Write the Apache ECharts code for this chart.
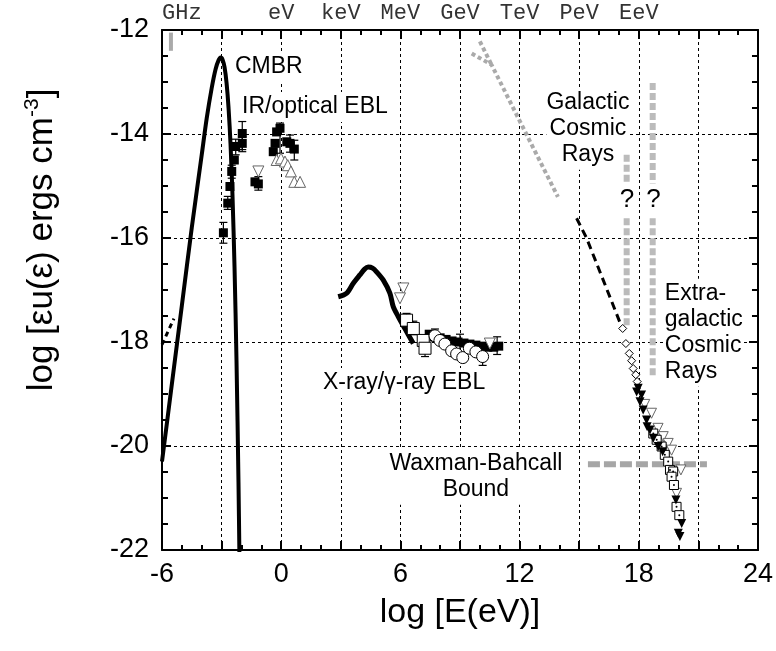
<!DOCTYPE html>
<html>
<head>
<meta charset="utf-8">
<script src="https://cdn.jsdelivr.net/npm/echarts@6/dist/echarts.min.js"></script>
<style>
html, body { margin: 0; background: #fff; }
#chart-container { width: 776px; height: 651px; }
</style>
</head>
<body>
<div id="chart-container"></div>
<script>
// top axis energy names, by log E
const topLabels = { '-6': 'GHz', '0': 'eV', '3': 'keV', '6': 'MeV', '9': 'GeV', '12': 'TeV', '15': 'PeV', '18': 'EeV' }

// CMBR black body
const cmbrX = [-6, -5.5, -5, -4.5, -4, -3.75, -3.5, -3.3, -3.15, -3.05, -2.95, -2.85, -2.75, -2.65, -2.55, -2.45, -2.35, -2.25, -2.15, -2.1]
const cmbrY = [-20.3, -18.8, -17.3, -15.8, -14.4, -13.7, -13.12, -12.75, -12.58, -12.53, -12.57, -12.72, -13.02, -13.5, -14.2, -15.2, -16.55, -18.35, -20.7, -22.2]

// IR / optical EBL
const irSquares = [[-1.96, -13.99], [-1.96, -14.18], [-2.29, -14.24], [-2.36, -14.5], [-2.49, -14.72], [-2.58, -15.01], [-2.69, -15.33], [-2.91, -15.9],
  [-0.23, -13.96], [-0.06, -13.89], [-0.31, -14.18], [-0.4, -14.34], [0.28, -14.15], [0.44, -14.18], [0.66, -14.29], [-1.15, -14.96], [-1.32, -14.92]]
const irTriUp = [[-0.23, -14.5], [-0.01, -14.47], [0.19, -14.53], [0.33, -14.6], [0.49, -14.72], [0.66, -14.92], [0.95, -14.92]]
const irTriDown = [[-1.15, -14.72]]
const irErr = [[-1.96, -13.76, -14.34], [-2.91, -15.7, -16.1], [-0.06, -13.79, -14.37], [0.66, -14.12, -14.5], [-1.15, -14.82, -15.08],
  [-2.49, -14.6, -14.85], [-2.29, -14.1, -14.4], [-2.69, -15.2, -15.45], [0.44, -14.02, -14.35], [-1.96, -14.05, -14.3]]

// X-ray / gamma-ray EBL
const xrayX = [2.87, 3.3, 3.63, 3.96, 4.2, 4.38, 4.6, 4.8, 5.14, 5.47, 5.64, 5.89, 6.31, 6.65]
const xrayY = [-17.13, -17.06, -16.87, -16.71, -16.6, -16.56, -16.58, -16.65, -16.81, -17.06, -17.32, -17.51, -17.8, -18.03]
const xraySquares = [[6.31, -17.58], [6.65, -17.74], [7.15, -17.97], [7.24, -18.12]]
const xrayCircles = [[7.74, -17.88], [7.99, -17.97], [8.24, -18.04], [8.58, -18.17], [8.83, -18.23], [9.14, -18.3], [9.47, -18.12], [9.8, -18.19], [10.14, -18.28]]
const xrayFilled = [[7.45, -17.85], [7.7, -17.9], [8.0, -17.92], [8.3, -17.95], [8.6, -17.98], [8.9, -18.0], [9.2, -18.02], [9.5, -18.04], [9.8, -18.06], [10.1, -18.08], [10.4, -18.1], [10.7, -18.1], [10.95, -18.08]]
const xrayTriDown = [[6.15, -16.97], [5.98, -17.16], [10.5, -18.03]]
const xrayErr = [[6.31, -17.45, -17.7], [6.65, -17.6, -17.86], [7.24, -17.92, -18.28], [7.74, -17.75, -17.98], [9.0, -17.85, -18.2], [10.14, -18.12, -18.45], [10.87, -17.9, -18.24]]

// galactic cosmic rays (two branches)
const gcrUpper = [[10.0, -12.22], [10.59, -12.67]]
const gcrMain = [[9.59, -12.45], [10.59, -12.67], [12.02, -13.76], [13.93, -15.21]]
// extragalactic extrapolation
const egcrDash = [[14.87, -15.62], [15.37, -16.0], [16.2, -16.8], [17.13, -17.7]]
const leftDash = [[-6, -18.05], [-5.4, -17.55]]
const ghzMark = [[-5.55, -12.05], [-5.55, -12.4]]

// "?" bars
const barA1 = [[17.39, -14.4], [17.39, -14.95]]
const barA2 = [[17.39, -15.62], [17.39, -17.72]]
const barB1 = [[18.7, -13.02], [18.7, -14.95]]
const barB2 = [[18.7, -15.62], [18.7, -18.65]]
const wbBound = [[15.44, -20.35], [21.43, -20.35]]

// UHECR data
const uhDiamonds = [[17.19, -17.74], [17.35, -18.03], [17.52, -18.22], [17.64, -18.36], [17.72, -18.51], [17.85, -18.63], [17.92, -18.76]]
const uhFilledDown = [[17.89, -18.96], [17.97, -18.89], [18.06, -19.15], [18.14, -19.02], [18.22, -19.31], [18.39, -19.5], [18.42, -19.63], [18.56, -19.69],
  [18.73, -19.85], [18.98, -20.01], [19.2, -20.11], [19.87, -21.04], [20.16, -21.49], [19.99, -21.68], [20.07, -21.74]]
const uhOpenDown = [[18.3, -19.2], [18.64, -19.37], [18.97, -19.66], [19.23, -19.82], [19.48, -19.95], [19.65, -20.08], [20.12, -20.46], [19.9, -20.91]]
const uhSquares = [[18.73, -19.76], [18.9, -19.88], [19.15, -20.01], [19.31, -20.17], [19.48, -20.3], [19.57, -20.46], [19.73, -20.49],
  [19.65, -20.59], [19.77, -20.75], [19.9, -21.17], [20.04, -21.33]]

// text annotations [x, y, text, align, size]
const notes = [
  [-2.33, -12.71, 'CMBR', 'left', 23],
  [-1.97, -13.48, 'IR/optical EBL', 'left', 23],
  [15.44, -13.9, 'Galactic\nCosmic\nRays', 'center', 23],
  [17.4, -15.27, '?', 'center', 26],
  [18.74, -15.27, '?', 'center', 26],
  [19.31, -17.82, 'Extra-\ngalactic\nCosmic\nRays', 'left', 23],
  [2.1, -18.79, 'X-ray/\u03b3-ray EBL', 'left', 23],
  [9.8, -20.59, 'Waxman-Bahcall\nBound', 'center', 23]
]

const sans = "'Liberation Sans', Arial, sans-serif"
const zip = (xs, ys) => xs.map((x, i) => [x, ys[i]])

const line = (data, color, width, type) => ({
  type: 'line', data, symbol: 'none', silent: true, z: 3,
  lineStyle: { color, width, type, cap: 'butt' }
})
const pts = (data, symbol, size, fill, border, rotate) => ({
  type: 'scatter', data, symbol, symbolSize: size, symbolRotate: rotate || 0, z: 5,
  itemStyle: { color: fill, borderColor: border, borderWidth: border ? 1 : 0, opacity: 1 }
})
const errBars = data => ({
  type: 'custom', data, z: 4, encode: { x: 0, y: [1, 2] },
  renderItem: (params, api) => {
    const x = api.value(0)
    const a = api.coord([x, api.value(1)])
    const b = api.coord([x, api.value(2)])
    const s = { stroke: '#000', lineWidth: 1.2 }
    return { type: 'group', children: [
      { type: 'line', shape: { x1: a[0], y1: a[1], x2: b[0], y2: b[1] }, style: s },
      { type: 'line', shape: { x1: a[0] - 4, y1: a[1], x2: a[0] + 4, y2: a[1] }, style: s },
      { type: 'line', shape: { x1: b[0] - 4, y1: b[1], x2: b[0] + 4, y2: b[1] }, style: s }
    ] }
  }
})

const axisCommon = {
  type: 'value',
  axisLine: { show: true, onZero: false, lineStyle: { color: '#000', width: 2 } },
  axisTick: { show: true, inside: true, length: 9, lineStyle: { color: '#000', width: 2 } },
  minorTick: { show: true, length: 5, lineStyle: { color: '#000', width: 2 } }
}
const dashGrid = { show: true, lineStyle: { color: '#000', width: 1, type: [3, 3] } }

const myChart = echarts.init(document.getElementById('chart-container'))
const option = {
  animation: false,
  backgroundColor: '#fff',
  grid: { left: 162, right: 18, top: 30, bottom: 101 },
  xAxis: [
    Object.assign({}, axisCommon, {
      min: -6, max: 24, interval: 3, position: 'bottom',
      minorTick: Object.assign({}, axisCommon.minorTick, { splitNumber: 3 }),
      splitLine: dashGrid,
      axisLabel: { fontSize: 27, color: '#000', fontFamily: sans, margin: 11,
        formatter: v => (v % 6 === 0 ? String(v) : '') },
      name: 'log [E(eV)]', nameLocation: 'middle', nameGap: 46,
      nameTextStyle: { fontSize: 34, color: '#000', fontFamily: sans }
    }),
    Object.assign({}, axisCommon, {
      min: -6, max: 24, interval: 3, position: 'top',
      minorTick: Object.assign({}, axisCommon.minorTick, { splitNumber: 3 }),
      splitLine: { show: false },
      axisLabel: { fontSize: 22, color: '#333', fontFamily: "'Liberation Mono', 'DejaVu Sans Mono', monospace",
        margin: 6, alignMinLabel: 'left', formatter: v => topLabels[String(v)] || '' }
    })
  ],
  yAxis: [
    Object.assign({}, axisCommon, {
      min: -22, max: -12, interval: 2, position: 'left',
      minorTick: Object.assign({}, axisCommon.minorTick, { splitNumber: 4, length: 6 }),
      splitLine: dashGrid,
      axisLabel: { fontSize: 27, color: '#000', fontFamily: sans, margin: 13 }
    }),
    Object.assign({}, axisCommon, {
      min: -22, max: -12, interval: 2, position: 'right',
      minorTick: Object.assign({}, axisCommon.minorTick, { splitNumber: 4, length: 6 }),
      splitLine: { show: false },
      axisLabel: { show: false }
    })
  ],
  graphic: [{
    type: 'text', x: 42, y: 240, rotation: Math.PI / 2,
    style: {
      text: 'log [\u03b5u(\u03b5) ergs cm{sup|-3}]',
      fill: '#000', font: '35px ' + sans, align: 'center', verticalAlign: 'middle',
      rich: { sup: { fontSize: 21, fontFamily: sans, fill: '#000', verticalAlign: 'top', lineHeight: 40 } }
    }
  }],
  series: [
    line(ghzMark, '#aaa', 4, 'solid'),
    line(leftDash, '#000', 3, [5, 4]),
    Object.assign(line(zip(cmbrX, cmbrY), '#000', 4, 'solid'), { smooth: 0.3 }),
    errBars(irErr),
    pts(irSquares, 'rect', 9, '#000'),
    pts(irTriUp, 'triangle', 11, '#fff', '#666'),
    pts(irTriDown, 'triangle', 11, '#fff', '#666', 180),
    Object.assign(line(zip(xrayX, xrayY), '#000', 5, 'solid'), { smooth: 0.3 }),
    errBars(xrayErr),
    pts(xrayFilled, 'rect', 9, '#000'),
    pts(xraySquares, 'rect', 12, '#fff', '#000'),
    pts(xrayCircles, 'circle', 12, '#fff', '#000'),
    pts(xrayTriDown, 'triangle', 11, '#fff', '#666', 180),
    line(gcrUpper, '#aaa', 4, [4, 3]),
    line(gcrMain, '#aaa', 4, [4, 3]),
    line(egcrDash, '#000', 3, [8, 5]),
    line(barA1, '#bbb', 6, [7, 3]),
    line(barA2, '#bbb', 6, [7, 3]),
    line(barB1, '#bbb', 6, [7, 3]),
    line(barB2, '#bbb', 6, [7, 3]),
    line(wbBound, '#a6a6a6', 6, [12, 4]),
    pts(uhDiamonds, 'diamond', 8, '#fff', '#000'),
    pts(uhOpenDown, 'triangle', 10, '#fff', '#666', 180),
    pts(uhSquares, 'rect', 9, '#fff', '#000'),
    pts(uhSquares, 'circle', 2, '#000'),
    pts(uhFilledDown, 'triangle', 9, '#000', null, 180),
    {
      type: 'scatter', symbolSize: 0, silent: true, z: 2,
      itemStyle: { opacity: 1 },
      data: notes.map(n => ({
        value: [n[0], n[1]],
        label: { show: true, position: 'inside', formatter: n[2], align: n[3], verticalAlign: 'middle',
          fontSize: n[4], lineHeight: 26, color: '#000', fontFamily: sans, opacity: 1,
          textBorderWidth: 0, backgroundColor: '#fff', padding: [2, 0] }
      }))
    }
  ]
}
option && myChart.setOption(option)
</script>
</body>
</html>
